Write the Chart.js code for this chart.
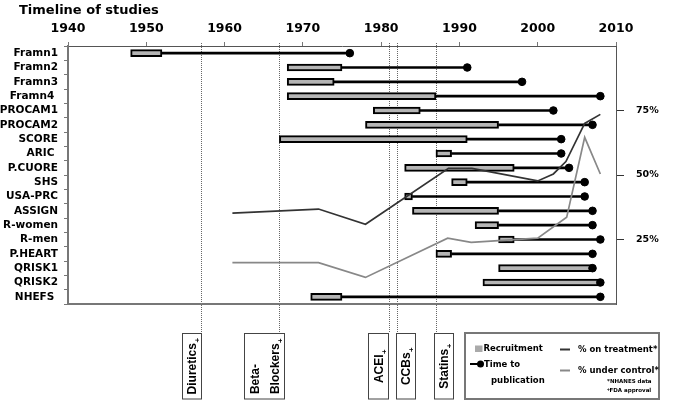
<!DOCTYPE html>
<html><head><meta charset="utf-8">
<script src="https://cdn.jsdelivr.net/npm/chart.js@4"></script>
<style>html,body{margin:0;padding:0;background:#fff}#wrap{width:677px;height:401px;position:relative}</style>
</head><body><div id="wrap"><canvas id="c" width="677" height="401"></canvas></div>
<script>
const studies = ['Framn1','Framn2','Framn3','Framn4 ','PROCAM1','PROCAM2','SCORE','ARIC ','P.CUORE','SHS','USA-PRC','ASSIGN','R-women','R-men','P.HEART','QRISK1','QRISK2','NHEFS '];
const recruitStart = [1948,1968,1968,1968,1979,1978,1967,1987,1983,1989,1983,1984,1992,1995,1987,1995,1993,1971];
const recruitEnd   = [1952,1975,1974,1987,1985,1995,1991,1989,1997,1991,1984,1995,1995,1997,1989,2007,2008,1975];
const pubYear      = [1976,1991,1998,2008,2002,2007,2003,2003,2004,2006,2006,2007,2007,2008,2007,2007,2008,2008];
const treatYears = [1961,1972,1978,1988.6,1991.6,2000,2002,2003.6,2006,2008];
const treatPct   = [35.2,36.8,30.9,52.6,52.6,47.7,50.4,55.2,70.0,73.5];
const controlYears = [1961,1972,1978,1988.5,1991.5,2000,2003.7,2006,2008];
const controlPct   = [16.0,16.0,10.3,25.5,23.9,25.5,33.6,64.6,50.4];
const drugNames = [['Diuretics'],['Beta-','Blockers'],['ACEI'],['CCBs'],['Statins']];
const drugYears = [1957,1967,1981,1982,1987];
const yearTicks = [1940,1950,1960,1970,1980,1990,2000,2010];
const pctTicks = [25,50,75];

const VF = '"DejaVu Sans", Verdana, sans-serif';
const AF = '"Liberation Sans", Arial, sans-serif';
// box geometry relative to each approval line: [left offset, width]
const boxGeom = [[-18.7,19.4],[-35,40],[-20.6,20],[-1,19],[-1.5,19]];

const decor = {
  id: 'decor',
  beforeDatasetsDraw(chart) {
    const {ctx, chartArea: a, scales: {x}} = chart;
    ctx.save();
    ctx.strokeStyle = '#666'; ctx.lineWidth = 1; ctx.setLineDash([1, 1]);
    drugYears.forEach(yr => {
      const px = Math.round(x.getPixelForValue(yr)) + 0.5;
      ctx.beginPath(); ctx.moveTo(px, a.top - 3); ctx.lineTo(px, 333); ctx.stroke();
    });
    ctx.restore();
  },
  afterDraw(chart) {
    const {ctx, chartArea: a, scales: {x}} = chart;
    ctx.save();
    ctx.fillStyle = '#000'; ctx.font = 'bold 13px ' + VF; ctx.textBaseline = 'alphabetic'; ctx.textAlign = 'left';
    ctx.fillText('Timeline of studies', 19, 13.5);
    ctx.strokeStyle = '#777'; ctx.lineWidth = 2;
    ctx.beginPath(); ctx.moveTo(a.left - 1, a.bottom); ctx.lineTo(a.right, a.bottom); ctx.stroke();
    const top = 333, bot = 398.5, cy = (top + bot) / 2;
    drugYears.forEach((yr, i) => {
      const px = x.getPixelForValue(yr);
      const [off, w] = boxGeom[i];
      const l = px + off;
      ctx.fillStyle = '#fff'; ctx.fillRect(l, top, w, bot - top);
      ctx.strokeStyle = '#444'; ctx.lineWidth = 1; ctx.setLineDash([]);
      ctx.strokeRect(Math.round(l) + 0.5, top + 0.5, Math.round(w), bot - top);
      const lines = drugNames[i];
      ctx.font = 'bold 12px ' + AF;
      const widths = lines.map((t, j) => ctx.measureText(t).width + (j === lines.length - 1 ? 6 : 0));
      const bw = Math.max(...widths);
      const cx = l + w / 2;
      ctx.save();
      ctx.translate(cx, cy); ctx.rotate(-Math.PI / 2);
      ctx.fillStyle = '#000'; ctx.textBaseline = 'middle'; ctx.textAlign = 'left';
      lines.forEach((t, j) => {
        const yy = (j - (lines.length - 1) / 2) * 20 + 1;
        ctx.font = 'bold 12px ' + AF;
        ctx.fillText(t, -bw / 2, yy);
        if (j === lines.length - 1) {
          const tw = ctx.measureText(t).width;
          ctx.font = 'bold 8px ' + AF;
          ctx.fillText('+', -bw / 2 + tw + 0.5, yy + 5);
        }
      });
      ctx.restore();
    });
    ctx.setLineDash([]);
    ctx.strokeStyle = '#777'; ctx.lineWidth = 2; ctx.strokeRect(465, 333, 194, 66);
    ctx.fillStyle = '#aaa'; ctx.fillRect(475, 345.5, 7.5, 6.5);
    ctx.fillStyle = '#000'; ctx.font = 'bold 8.5px ' + VF; ctx.textBaseline = 'middle'; ctx.textAlign = 'left';
    ctx.fillText('Recruitment', 483.5, 348.5);
    ctx.strokeStyle = '#000'; ctx.lineWidth = 2;
    ctx.beginPath(); ctx.moveTo(470, 364); ctx.lineTo(480, 364); ctx.stroke();
    ctx.beginPath(); ctx.arc(480.5, 364, 3.5, 0, Math.PI * 2); ctx.fill();
    ctx.fillText('Time to', 484, 364.5);
    ctx.fillText('publication', 491, 380.5);
    ctx.strokeStyle = '#333'; ctx.beginPath(); ctx.moveTo(560, 349.5); ctx.lineTo(570, 349.5); ctx.stroke();
    ctx.fillText('% on treatment*', 578, 349.5);
    ctx.strokeStyle = '#888'; ctx.beginPath(); ctx.moveTo(560, 370.5); ctx.lineTo(570, 370.5); ctx.stroke();
    ctx.fillText('% under control*', 578, 371);
    ctx.font = 'bold 5.5px ' + VF;
    ctx.fillText('*NHANES data', 607, 381.5);
    ctx.fillText('FDA approval', 609.5, 391);
    ctx.font = 'bold 4.5px ' + VF;
    ctx.fillText('+', 606.5, 389.5);
    ctx.restore();
  }
};

new Chart(document.getElementById('c'), {
  type: 'bar',
  data: {
    labels: studies,
    datasets: [
      { type: 'scatter', label: 'Time to publication', data: studies.map((s, i) => ({x: pubYear[i], y: s})),
        xAxisID: 'x', yAxisID: 'y', backgroundColor: '#000', borderColor: '#000', pointRadius: 3.8, pointHoverRadius: 3.8, order: 0 },
      { type: 'line', label: '% on treatment', data: treatYears.map((v, i) => ({x: v, y: treatPct[i]})),
        xAxisID: 'x', yAxisID: 'yr', borderColor: '#333', borderWidth: 1.7, pointRadius: 0, tension: 0, fill: false, order: 1 },
      { type: 'line', label: '% under control', data: controlYears.map((v, i) => ({x: v, y: controlPct[i]})),
        xAxisID: 'x', yAxisID: 'yr', borderColor: '#888', borderWidth: 1.7, pointRadius: 0, tension: 0, fill: false, order: 1 },
      { type: 'bar', label: 'Recruitment', indexAxis: 'y', data: studies.map((s, i) => [recruitStart[i], recruitEnd[i]]),
        xAxisID: 'x', yAxisID: 'y', backgroundColor: '#b5b5b5', borderColor: '#000', borderWidth: 2, borderSkipped: false,
        barThickness: 7, grouped: false, order: 2 },
      { type: 'bar', label: 'pub', indexAxis: 'y', data: studies.map((s, i) => [recruitEnd[i], pubYear[i]]),
        xAxisID: 'x', yAxisID: 'y', backgroundColor: '#000', borderWidth: 0, barThickness: 2, grouped: false, order: 3 }
    ]
  },
  options: {
    responsive: false, animation: false, maintainAspectRatio: false,
    layout: { padding: { top: 0, left: 0, right: 0, bottom: 97 } },
    plugins: { legend: { display: false }, tooltip: { enabled: false }, title: { display: false } },
    scales: {
      x: { type: 'linear', position: 'top', min: 1940, max: 2010, offset: false,
        afterBuildTicks: s => { s.ticks = yearTicks.map(v => ({value: v})); },
        afterFit: s => { s.height = 46; },
        ticks: { font: { family: VF, size: 12.5, weight: 'bold' }, color: '#000', padding: 6, maxRotation: 0, callback: v => String(v) },
        grid: { drawOnChartArea: false, offset: false, tickLength: 4, color: '#777' },
        border: { color: '#555', width: 1 } },
      y: { type: 'category', position: 'left', offset: true,
        afterFit: s => { s.width = 68; },
        ticks: { font: { family: VF, size: 10.5, weight: 'bold' }, color: '#000', padding: 6, autoSkip: false },
        grid: { drawOnChartArea: false, offset: true, tickLength: 4, color: '#777' },
        border: { color: '#777', width: 2 } },
      yr: { type: 'linear', position: 'right', min: 0, max: 100,
        afterBuildTicks: s => { s.ticks = pctTicks.map(v => ({value: v})); },
        afterFit: s => { s.width = 61; },
        ticks: { font: { family: VF, size: 9.5, weight: 'bold' }, color: '#000', padding: 12, callback: v => v + '%' },
        grid: { drawOnChartArea: false, tickLength: 8, color: '#333' },
        border: { color: '#555', width: 1 } }
    }
  },
  plugins: [decor]
});
</script></body></html>
